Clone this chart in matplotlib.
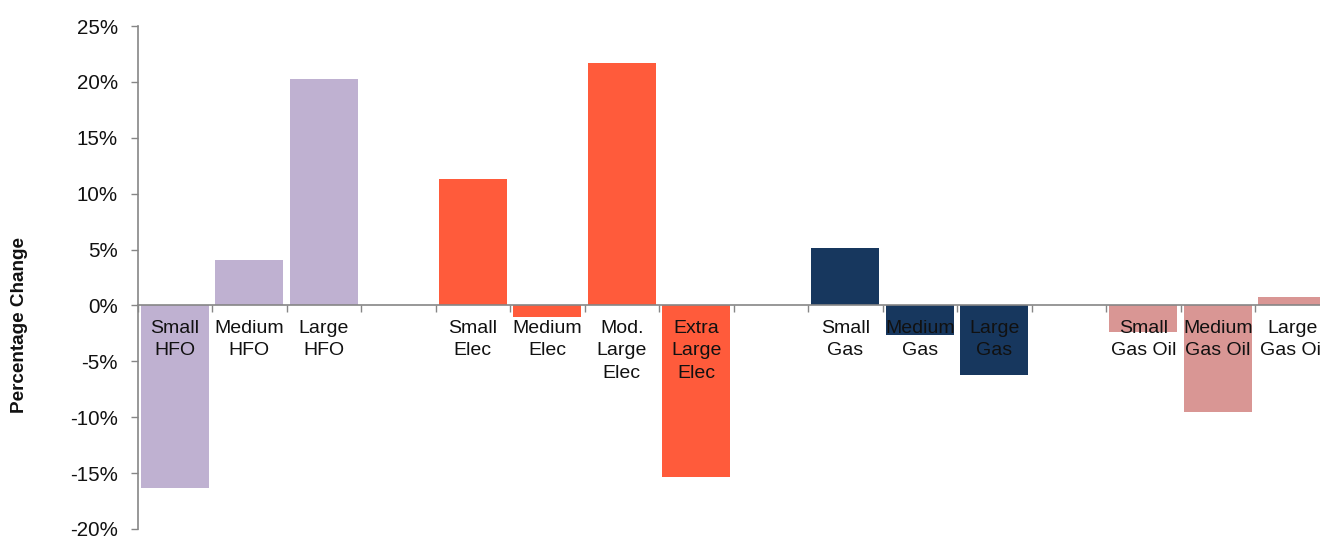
import matplotlib
matplotlib.use("Agg")
import matplotlib.pyplot as plt
import numpy as np

plt.rcParams['font.family'] = ['Liberation Sans', 'DejaVu Sans']

# ---- data ----
hfo_labels = ["Small\nHFO", "Medium\nHFO", "Large\nHFO"]
hfo_values = [-16.3, 4.05, 20.3]

elec_labels = ["Small\nElec", "Medium\nElec", "Mod.\nLarge\nElec", "Extra\nLarge\nElec"]
elec_values = [11.3, -1.0, 21.7, -15.35]

gas_labels = ["Small\nGas", "Medium\nGas", "Large\nGas"]
gas_values = [5.1, -2.65, -6.2]

gasoil_labels = ["Small\nGas Oil", "Medium\nGas Oil", "Large\nGas Oil"]
gasoil_values = [-2.4, -9.5, 0.75]

y_ticks = [-20, -15, -10, -5, 0, 5, 10, 15, 20, 25]
y_ticklabels = [f"{t}%" for t in y_ticks]

colors = ["#BFB1D1", "#FF5B3B", "#17375E", "#D99694"]

groups = [(hfo_labels, hfo_values), (elec_labels, elec_values),
          (gas_labels, gas_values), (gasoil_labels, gasoil_values)]

# ---- figure ----
W, H = 1320, 537
fig = plt.figure(figsize=(W / 100, H / 100), dpi=100)
left_px, right_px, top_px, bot_px = 137.5, 137.5 + 16 * 74.5, 26, 529
ax = fig.add_axes([left_px / W, 1 - bot_px / H, (right_px - left_px) / W, (bot_px - top_px) / H])

pos = 0
xs_all, labels_all = [], []
for gi, (labs, vals) in enumerate(groups):
    xs = np.arange(pos, pos + len(vals)) + 0.5
    ax.bar(xs, vals, width=0.91, color=colors[gi], zorder=2)
    xs_all.extend(xs)
    labels_all.extend(labs)
    pos += len(vals) + 1

for x, lab in zip(xs_all, labels_all):
    ax.annotate(lab, xy=(x, 0), xytext=(0, -10.5), textcoords='offset points',
                ha='center', va='top', fontsize=14, color='#111111',
                linespacing=1.42, zorder=5)

ax.set_xlim(0, 16)
ax.set_ylim(-20, 25)
ax.set_yticks(y_ticks)
ax.set_yticklabels(y_ticklabels, fontsize=14.8, color='#111111')
ax.set_xticks(np.arange(0, 17))
ax.set_xticklabels([])

spine_col = '#868686'
for s in ['top', 'right']:
    ax.spines[s].set_visible(False)
ax.spines['left'].set_color(spine_col)
ax.spines['bottom'].set_color(spine_col)
ax.spines['bottom'].set_position(('data', 0))
ax.spines['bottom'].set_zorder(4)
ax.spines['left'].set_linewidth(1.2)
ax.spines['bottom'].set_linewidth(1.2)
ax.tick_params(axis='y', direction='out', length=5, width=1, color=spine_col, pad=9)
ax.tick_params(axis='x', direction='out', length=5, width=1, color=spine_col)

fig.text(20 / W, 1 - 325 / H, "Percentage Change", rotation=90, ha='center', va='center',
         fontsize=13.6, fontweight='bold', color='#111111')

fig.savefig("out.png", dpi=100)
